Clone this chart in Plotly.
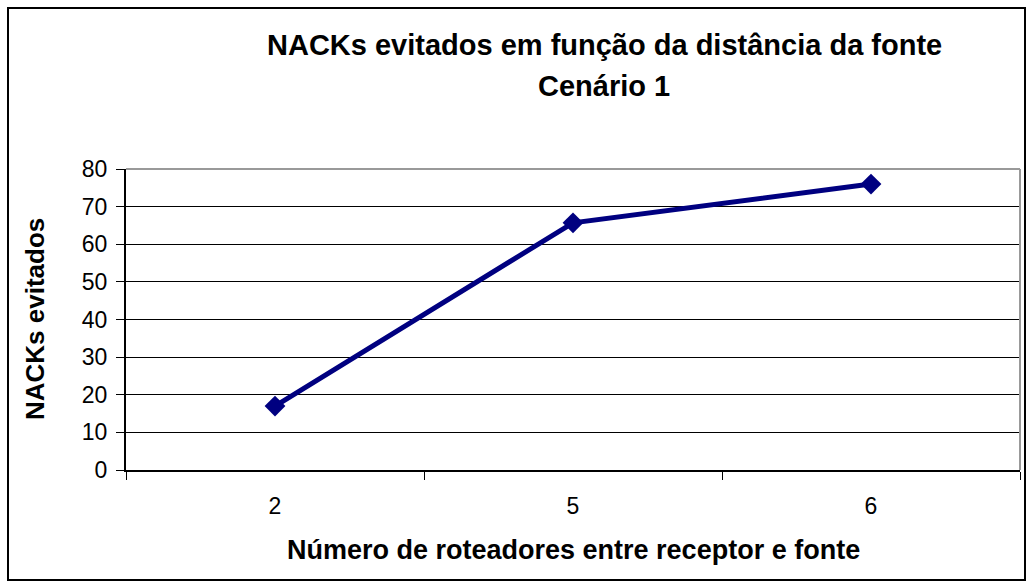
import plotly.graph_objects as go

categories = ["2", "5", "6"]
values = [17, 65.7, 76]
y_ticks = [0, 10, 20, 30, 40, 50, 60, 70, 80]

title_line1 = "NACKs evitados em função da distância da fonte"
title_line2 = "Cenário 1"
x_title = "Número de roteadores entre receptor e fonte"
y_title = "NACKs evitados"

FONT = "Liberation Sans, Arial, sans-serif"
W, H = 1032, 588
L, R, T, B = 126, 12, 169, 118
pw, ph = W - L - R, H - T - B

def px_to_paper_x(px):
    return (px - L) / pw

def px_to_paper_y(py):
    return (H - B - py) / ph

fig = go.Figure()
fig.add_trace(go.Scatter(
    x=categories, y=values, mode="lines+markers",
    line=dict(color="#000080", width=5),
    marker=dict(symbol="diamond", size=16, color="#000080"),
    showlegend=False, cliponaxis=False,
))

fig.update_layout(
    width=W, height=H,
    margin=dict(l=L, r=R, t=T, b=B),
    paper_bgcolor="white", plot_bgcolor="white",
    font=dict(family=FONT, color="black", size=23),
    xaxis=dict(
        type="category", tickson="boundaries", ticks="outside", ticklen=8,
        tickcolor="black", tickwidth=1, showline=True, linecolor="black", linewidth=2,
        showgrid=False, tickfont=dict(size=23), ticklabelstandoff=14,
        range=[-0.5, 2.5],
    ),
    yaxis=dict(
        range=[0, 80], tickvals=y_ticks, ticks="outside", ticklen=8, tickcolor="black",
        showline=True, linecolor="black", linewidth=2, showgrid=True, gridcolor="black",
        gridwidth=1, zeroline=False, tickfont=dict(size=23), ticklabelstandoff=4,
    ),
    shapes=[
        dict(type="line", xref="paper", yref="paper", x0=0, x1=1, y0=1, y1=1,
             line=dict(color="#999999", width=2), layer="above"),
        dict(type="line", xref="paper", yref="paper", x0=1, x1=1, y0=0, y1=1,
             line=dict(color="#999999", width=2), layer="above"),
        dict(type="rect", xref="paper", yref="paper",
             x0=px_to_paper_x(8), x1=px_to_paper_x(1025),
             y0=px_to_paper_y(580), y1=px_to_paper_y(8),
             line=dict(color="black", width=2), layer="below"),
    ],
    annotations=[
        dict(text=f"<b>{title_line1}</b>", xref="paper", yref="paper",
             x=px_to_paper_x(604), y=px_to_paper_y(45), showarrow=False,
             font=dict(size=29), xanchor="center", yanchor="middle"),
        dict(text=f"<b>{title_line2}</b>", xref="paper", yref="paper",
             x=px_to_paper_x(604), y=px_to_paper_y(86), showarrow=False,
             font=dict(size=29), xanchor="center", yanchor="middle"),
        dict(text=f"<b>{x_title}</b>", xref="paper", yref="paper",
             x=px_to_paper_x(573), y=px_to_paper_y(550), showarrow=False,
             font=dict(size=27), xanchor="center", yanchor="middle"),
        dict(text=f"<b>{y_title}</b>", xref="paper", yref="paper",
             x=px_to_paper_x(35), y=px_to_paper_y(319), showarrow=False,
             font=dict(size=26), xanchor="center", yanchor="middle", textangle=-90),
    ],
)

fig.write_html("out.html", config={"displayModeBar": False},
               post_script="document.body.style.margin='0';")
